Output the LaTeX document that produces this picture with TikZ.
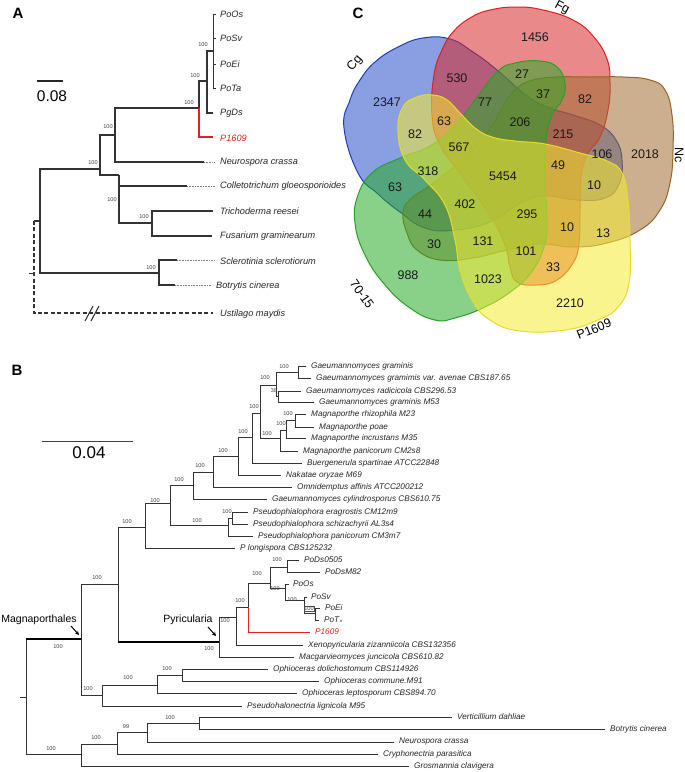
\documentclass[tikz,border=0pt]{standalone}
\usepackage{fontspec}
\setmainfont{Liberation Sans}
\usetikzlibrary{arrows.meta}
\definecolor{cgF}{RGB}{40,80,200}
\definecolor{cgD}{RGB}{30,60,185}
\definecolor{fgF}{RGB}{215,40,40}
\definecolor{fgD}{RGB}{225,30,30}
\definecolor{ncF}{RGB}{160,110,50}
\definecolor{ncD}{RGB}{150,100,40}
\definecolor{gnF}{RGB}{40,170,40}
\definecolor{gnD}{RGB}{40,160,40}
\definecolor{ylF}{RGB}{245,235,50}
\definecolor{ylD}{RGB}{230,220,40}
\definecolor{redL}{RGB}{230,30,30}
\begin{document}
\begin{tikzpicture}[x=1pt,y=-1pt,
  brA/.style={line width=1.2pt, draw=black!80},
  brB/.style={line width=0.75pt, draw=black!80},
  thk/.style={line width=2.3pt, draw=black},
  dotx/.style={densely dotted, draw=black!50, line width=0.6pt},
  spA/.style={anchor=west, inner sep=0pt, font=\fontsize{9.2}{10}\selectfont\itshape, text=black!85},
  spB/.style={anchor=west, inner sep=0pt, font=\fontsize{8.2}{9}\selectfont\itshape, text=black!85},
  bs/.style={inner sep=0pt, font=\fontsize{5.6}{6}\selectfont, text=black!75},
  vn/.style={inner sep=0pt, font=\fontsize{12.5}{13}\selectfont, text=black!90},
  setlab/.style={inner sep=0pt, font=\fontsize{12.5}{13}\selectfont},
  panel/.style={inner sep=0pt, font=\fontsize{15}{16}\selectfont\bfseries},
  clade/.style={inner sep=0pt, font=\fontsize{10.5}{11}\selectfont},
  blob/.style={line width=1pt, fill opacity=0.55}
]
\useasboundingbox (0,0) rectangle (685,772);

%================ PANEL C (Venn) =================
\path[blob, fill=cgF, draw=cgD] plot[smooth cycle, tension=0.75] coordinates {(344,128) (350,100) (360,80) (375,62) (398,47) (423,38) (450,39) (473,52) (497,70) (527,96) (550,108) (573,115) (600,125) (616,140) (622,160) (619,184) (605,198) (578,200) (545,196) (520,203) (490,222) (455,230) (425,228) (400,212) (378,194) (358,173)};
\path[blob, fill=fgF, draw=fgD] plot[smooth cycle, tension=0.75] coordinates {(434,75) (442,50) (453,32) (470,18) (490,10) (517,7) (543,10) (573,20) (593,36) (607,59) (610,83) (608,110) (600,137) (587,155) (581,178) (580,210) (579,243) (573,263) (557,280) (537,285) (517,282) (510,267) (505,245) (490,215) (462,176) (440,145) (432,115)};
\path[blob, fill=ncF, draw=ncD] plot[smooth cycle, tension=0.75] coordinates {(403,212) (407,233) (417,250) (440,260) (473,258) (507,250) (540,244) (573,247) (607,243) (640,230) (660,210) (670,183) (673,150) (672,115) (665,90) (650,80) (623,77) (590,77) (557,77) (533,80) (517,88) (505,103) (490,128) (465,157) (435,182) (412,198)};
\path[blob, fill=gnF, draw=gnD] plot[smooth cycle, tension=0.75] coordinates {(475,100) (497,72) (515,63) (540,61) (557,67) (565,83) (562,100) (552,115) (546,140) (545,180) (547,217) (545,243) (533,270) (513,290) (485,307) (455,318) (435,320) (410,308) (385,285) (365,255) (355,223) (358,195) (373,172) (400,158) (430,146) (455,125)};
\path[blob, fill=ylF, draw=ylD] plot[smooth cycle, tension=0.75] coordinates {(398,130) (403,107) (417,97) (433,95) (447,100) (460,113) (475,128) (492,137) (515,141) (545,144) (580,153) (607,161) (622,173) (628,200) (630,240) (629,283) (618,307) (598,320) (565,330) (520,331) (490,320) (472,300) (460,270) (455,240) (445,205) (425,180) (405,160)};

\node[panel] (lblC) at (358,13) {C};
\node[setlab, rotate=50] (sCg) at (355,63) {Cg};
\node[setlab, rotate=-28] (sFg) at (562,8) {Fg};
\node[setlab, rotate=-90] (sNc) at (679,155) {Nc};
\node[setlab, rotate=-55] (s70) at (362,294) {70-15};
\node[setlab, rotate=22] (sP) at (594,329) {P1609};

\node[vn] (v1) at (535,37) {1456};
\node[vn] (v2) at (457,78) {530};
\node[vn] (v3) at (522,74) {27};
\node[vn] (v4) at (387,102) {2347};
\node[vn] (v5) at (485,102) {77};
\node[vn] (v6) at (543,94) {37};
\node[vn] (v7) at (585,99) {82};
\node[vn] (v8) at (444,121) {63};
\node[vn] (v9) at (520,122) {206};
\node[vn] (v10) at (415,134) {82};
\node[vn] (v11) at (563,134) {215};
\node[vn] (v12) at (459,147) {567};
\node[vn] (v13) at (602,154) {106};
\node[vn] (v14) at (645,154) {2018};
\node[vn] (v15) at (558,165) {49};
\node[vn] (v16) at (428,171) {318};
\node[vn] (v17) at (503,176) {5454};
\node[vn] (v18) at (395,187) {63};
\node[vn] (v19) at (594,185) {10};
\node[vn] (v20) at (465,204) {402};
\node[vn] (v21) at (425,214) {44};
\node[vn] (v22) at (527,214) {295};
\node[vn] (v23) at (567,227) {10};
\node[vn] (v24) at (603,233) {13};
\node[vn] (v25) at (434,244) {30};
\node[vn] (v26) at (483,241) {131};
\node[vn] (v27) at (526,251) {101};
\node[vn] (v28) at (553,267) {33};
\node[vn] (v29) at (408,275) {988};
\node[vn] (v30) at (488,279) {1023};
\node[vn] (v31) at (570,303) {2210};

%================ PANEL A =================
\node[panel] (lblA) at (18,13) {A};
\coordinate (sbA1) at (37,81); \coordinate (sbA2) at (63,81);
\draw[line width=1.3pt, black!85] (sbA1) -- (sbA2);
\node[inner sep=0pt, font=\fontsize{15.5}{16}\selectfont] (sbAt) at (52,96) {0.08};

\coordinate (aR) at (34,221);
\coordinate (a1) at (40,221);
\coordinate (a2) at (100,169);
\coordinate (a3) at (115,135);
\coordinate (a4) at (199,108);
\coordinate (a6) at (207,81);
\coordinate (a7) at (213,51);
\coordinate (a5) at (119,175);
\coordinate (a9) at (152,223);
\coordinate (a8) at (159,273);
\coordinate (aT) at (29,273); \coordinate (aT2) at (34,273);

\coordinate (lA1) at (216,14);
\coordinate (lA2) at (216,38);
\coordinate (lA3) at (216,64);
\coordinate (lA4) at (216,88);
\coordinate (lA5) at (213,113);
\coordinate (lA6) at (213,137);
\coordinate (lA7) at (204,162);  \coordinate (lA7e) at (215,162);
\coordinate (lA8) at (187,186);  \coordinate (lA8e) at (215,186);
\coordinate (lA9) at (213,211);
\coordinate (lA10) at (212,236);
\coordinate (lA11) at (177,260); \coordinate (lA11e) at (214,260);
\coordinate (lA12) at (175,285); \coordinate (lA12e) at (211,285);
\coordinate (lA13) at (213,313);

\draw[brA] (aR) -- (a1);
\draw[brA] (a1) |- (a2);  \draw[brA] (a1) |- (a8);
\draw[brA] (a2) |- (a3);  \draw[brA] (a2) |- (a5);
\draw[brA] (a3) |- (a4);  \draw[brA] (a3) |- (lA7);
\draw[brA] (a4) |- (a6);  \draw[brA, draw=redL] (a4) |- (lA6);
\draw[brA] (a6) |- (a7);  \draw[brA] (a6) |- (lA5);
\draw[line width=0.9pt, black!80] (a7) |- (lA1); \draw[line width=0.9pt, black!80] (a7) |- (lA2);
\draw[line width=0.9pt, black!80] (a7) |- (lA3); \draw[line width=0.9pt, black!80] (a7) |- (lA4);
\draw[brA] (a5) |- (lA8);  \draw[brA] (a5) |- (a9);
\draw[brA] (a9) |- (lA9);  \draw[brA] (a9) |- (lA10);
\draw[brA] (a8) |- (lA11); \draw[brA] (a8) |- (lA12);
\draw[dotx] (lA7) -- (lA7e);
\draw[dotx] (lA8) -- (lA8e);
\draw[dotx] (lA11) -- (lA11e);
\draw[dotx] (lA12) -- (lA12e);
\draw[brA, dash pattern=on 4pt off 2.4pt] (aR) |- (lA13);
\draw[line width=0.8pt, black!80] (aT) -- (aT2);
\coordinate (bk1) at (85,321); \coordinate (bk2) at (93,306);
\coordinate (bk3) at (91,321); \coordinate (bk4) at (99,306);
\draw[line width=1pt, black!85] (bk1) -- (bk2);
\draw[line width=1pt, black!85] (bk3) -- (bk4);

\node[spA] (tA1) at (220,14) {PoOs};
\node[spA] (tA2) at (220,38) {PoSv};
\node[spA] (tA3) at (220,64) {PoEi};
\node[spA] (tA4) at (220,88) {PoTa};
\node[spA] (tA5) at (220,113) {PgDs};
\node[spA, text=redL] (tA6) at (220,138) {P1609};
\node[spA] (tA7) at (220,162) {Neurospora crassa};
\node[spA] (tA8) at (220,186) {Colletotrichum gloeosporioides};
\node[spA] (tA9) at (220,211) {Trichoderma reesei};
\node[spA] (tA10) at (220,236) {Fusarium graminearum};
\node[spA] (tA11) at (220,261) {Sclerotinia sclerotiorum};
\node[spA] (tA12) at (216,286) {Botrytis cinerea};
\node[spA] (tA13) at (220,314) {Ustilago maydis};

\node[bs] (bA1) at (203,45) {100};
\node[bs] (bA2) at (195,76) {100};
\node[bs] (bA3) at (189,103) {100};
\node[bs] (bA4) at (108,127) {100};
\node[bs] (bA5) at (93,163) {100};
\node[bs] (bA6) at (112,200) {100};
\node[bs] (bA7) at (144,217) {100};
\node[bs] (bA8) at (151,268) {100};

%================ PANEL B =================
\node[panel] (lblB) at (17,370) {B};
\coordinate (sbB1) at (42,441); \coordinate (sbB2) at (133,441);
\draw[line width=0.9pt, black!75] (sbB1) -- (sbB2);
\node[inner sep=0pt, font=\fontsize{17}{18}\selectfont] (sbBt) at (89,453) {0.04};

\coordinate (bS) at (20,697);
\coordinate (b0) at (26,697);
\coordinate (bM) at (81,639);
\coordinate (bO) at (81,754);
\coordinate (bP1) at (118,584);
\coordinate (b145) at (145,527);
\coordinate (b170) at (170,503);
\coordinate (b193) at (193,485);
\coordinate (b213) at (213,472);
\coordinate (b238) at (238,456);
\coordinate (b252) at (252,437);
\coordinate (b260) at (260,413);
\coordinate (b276) at (276,385);
\coordinate (b298) at (298,372);
\coordinate (b278) at (278,396);
\coordinate (b280) at (280,438);
\coordinate (b286) at (286,430);
\coordinate (b295) at (295,420);
\coordinate (b228) at (228,525);
\coordinate (b232) at (232,518);
\coordinate (bPy) at (219,642);
\coordinate (b236) at (236,617);
\coordinate (b248) at (248,607);
\coordinate (b270) at (270,583);
\coordinate (b287) at (287,567);
\coordinate (b285) at (285,588);
\coordinate (b304) at (304,600);
\coordinate (b315) at (315,613);
\coordinate (bQ) at (102,695);
\coordinate (b157) at (157,685);
\coordinate (b182) at (182,675);
\coordinate (b117) at (117,744);
\coordinate (b147) at (147,732);
\coordinate (b199) at (199,723);

\coordinate (lG1) at (306,366);
\coordinate (lG2) at (311,378);
\coordinate (lG3) at (301,391);
\coordinate (lG4) at (314,402);
\coordinate (lM1) at (306,414);
\coordinate (lM2) at (314,427);
\coordinate (lM3) at (306,438);
\coordinate (lM4) at (298,451);
\coordinate (lBuer) at (302,463);
\coordinate (lNak) at (281,475);
\coordinate (lOmni) at (292,487);
\coordinate (lGcyl) at (267,499);
\coordinate (lPs1) at (248,512);
\coordinate (lPs2) at (248,524);
\coordinate (lPs3) at (253,536);
\coordinate (lPlong) at (235,548);
\coordinate (lPoDs1) at (299,560);
\coordinate (lPoDs2) at (320,572);
\coordinate (lPoOs) at (289,584);
\coordinate (lPoSv) at (307,597);
\coordinate (lPoEi) at (320,608);
\coordinate (lPoTa) at (319,620);
\coordinate (lP1609) at (310,632);
\coordinate (lXeno) at (303,645);
\coordinate (lMac) at (294,657);
\coordinate (lOdo) at (268,669);
\coordinate (lOco) at (319,681);
\coordinate (lOle) at (297,693);
\coordinate (lPsh) at (242,706);
\coordinate (lVer) at (452,717);
\coordinate (lBot) at (605,729);
\coordinate (lNeu) at (394,742);
\coordinate (lCry) at (378,754);
\coordinate (lGro) at (409,766);

\draw[brB] (bS) -- (b0);
\draw[brB] (b0) |- (bM);  \draw[thk] (b0 |- bM) -- (bM);
\draw[brB] (b0) |- (bO);
\draw[brB] (bM) |- (bP1); \draw[brB] (bM) |- (bQ);
\draw[brB] (bP1) |- (b145); \draw[brB] (bP1) |- (bPy); \draw[thk] (bP1 |- bPy) -- (bPy);
\draw[brB] (b145) |- (b170); \draw[brB] (b145) |- (lPlong);
\draw[brB] (b170) |- (b193); \draw[brB] (b170) |- (b228);
\draw[brB] (b193) |- (b213); \draw[brB] (b193) |- (lGcyl);
\draw[brB] (b213) |- (b238); \draw[brB] (b213) |- (lOmni);
\draw[brB] (b238) |- (b252); \draw[brB] (b238) |- (lNak);
\draw[brB] (b252) |- (b260); \draw[brB] (b252) |- (lBuer);
\draw[brB] (b260) |- (b276); \draw[brB] (b260) |- (b280);
\draw[brB] (b276) |- (b298); \draw[brB] (b276) |- (b278);
\draw[brB] (b298) |- (lG1);  \draw[brB] (b298) |- (lG2);
\draw[brB] (b278) |- (lG3);  \draw[brB] (b278) |- (lG4);
\draw[brB] (b280) |- (b286); \draw[brB] (b280) |- (lM4);
\draw[brB] (b286) |- (b295); \draw[brB] (b286) |- (lM3);
\draw[brB] (b295) |- (lM1);  \draw[brB] (b295) |- (lM2);
\draw[brB] (b228) |- (b232); \draw[brB] (b228) |- (lPs3);
\draw[brB] (b232) |- (lPs1); \draw[brB] (b232) |- (lPs2);
\draw[brB] (bPy) |- (b236);  \draw[brB] (bPy) |- (lMac);
\draw[brB] (b236) |- (b248); \draw[brB] (b236) |- (lXeno);
\draw[brB] (b248) |- (b270); \draw[brB, draw=redL, line width=0.9pt] (b248) |- (lP1609);
\draw[brB] (b270) |- (b287); \draw[brB] (b270) |- (b285);
\draw[brB] (b287) |- (lPoDs1); \draw[brB] (b287) |- (lPoDs2);
\draw[brB] (b285) |- (lPoOs); \draw[brB] (b285) |- (b304);
\draw[brB] (b304) |- (lPoSv); \draw[brB] (b304) |- (b315);
\draw[brB] (b315) |- (lPoEi); \draw[brB] (b315) |- (lPoTa);
\draw[brB] (bQ) |- (b157);   \draw[brB] (bQ) |- (lPsh);
\draw[brB] (b157) |- (b182); \draw[brB] (b157) |- (lOle);
\draw[brB] (b182) |- (lOdo); \draw[brB] (b182) |- (lOco);
\draw[brB] (bO) |- (b117);   \draw[brB] (bO) |- (lGro);
\draw[brB] (b117) |- (b147); \draw[brB] (b117) |- (lCry);
\draw[brB] (b147) |- (b199); \draw[brB] (b147) |- (lNeu);
\draw[brB] (b199) |- (lVer); \draw[brB] (b199) |- (lBot);

\node[spB] (tG1) at (311,366) {Gaeumannomyces graminis};
\node[spB] (tG2) at (316,378) {Gaeumannomyces gramimis var. avenae CBS187.65};
\node[spB] (tG3) at (306,391) {Gaeumannomyces radicicola CBS296.53};
\node[spB] (tG4) at (319,402) {Gaeumannomyces graminis M53};
\node[spB] (tM1) at (311,414) {Magnaporthe rhizophila M23};
\node[spB] (tM2) at (319,427) {Magnaporthe poae};
\node[spB] (tM3) at (311,438) {Magnaporthe incrustans M35};
\node[spB] (tM4) at (303,451) {Magnaporthe panicorum CM2s8};
\node[spB] (tBuer) at (307,463) {Buergenerula spartinae ATCC22848};
\node[spB] (tNak) at (286,475) {Nakatae oryzae M69};
\node[spB] (tOmni) at (297,487) {Omnidemptus affinis ATCC200212};
\node[spB] (tGcyl) at (272,499) {Gaeumannomyces cylindrosporus CBS610.75};
\node[spB] (tPs1) at (253,512) {Pseudophialophora eragrostis CM12m9};
\node[spB] (tPs2) at (253,524) {Pseudophialophora schizachyrii AL3s4};
\node[spB] (tPs3) at (258,536) {Pseudophialophora panicorum CM3m7};
\node[spB] (tPlong) at (240,548) {P longispora CBS125232};
\node[spB] (tPoDs1) at (304,560) {PoDs0505};
\node[spB] (tPoDs2) at (325,572) {PoDsM82};
\node[spB] (tPoOs) at (293,584) {PoOs};
\node[spB] (tPoSv) at (311,597) {PoSv};
\node[spB] (tPoEi) at (325,608) {PoEi};
\node[spB] (tPoTa) at (324,620) {PoT{\fontsize{4}{4}\selectfont\,a}};
\node[spB, text=redL] (tP1609) at (315,632) {P1609};
\node[spB] (tXeno) at (308,645) {Xenopyricularia zizanniicola CBS132356};
\node[spB] (tMac) at (299,657) {Macgarvieomyces juncicola CBS610.82};
\node[spB] (tOdo) at (273,669) {Ophioceras dolichostomum CBS114926};
\node[spB] (tOco) at (324,681) {Ophioceras commune.M91};
\node[spB] (tOle) at (302,693) {Ophioceras leptosporum CBS894.70};
\node[spB] (tPsh) at (247,706) {Pseudohalonectria lignicola M95};
\node[spB] (tVer) at (457,717) {Verticillium dahliae};
\node[spB] (tBot) at (610,729) {Botrytis cinerea};
\node[spB] (tNeu) at (399,742) {Neurospora crassa};
\node[spB] (tCry) at (383,754) {Cryphonectria parasitica};
\node[spB] (tGro) at (414,766) {Grosmannia clavigera};

\node[bs] (bB1) at (284,367) {100};
\node[bs] (bB2) at (265,378) {100};
\node[bs] (bB3) at (274,391) {38};
\node[bs] (bB4) at (254,407) {100};
\node[bs] (bB5) at (288,414) {100};
\node[bs] (bB6) at (281,424) {100};
\node[bs] (bB7) at (243,432) {100};
\node[bs] (bB8) at (267,434) {100};
\node[bs] (bB9) at (223,451) {100};
\node[bs] (bB10) at (200,466) {100};
\node[bs] (bB11) at (179,480) {100};
\node[bs] (bB12) at (155,501) {100};
\node[bs] (bB13) at (227,512) {100};
\node[bs] (bB14) at (197,521) {100};
\node[bs] (bB15) at (127,522) {100};
\node[bs] (bB16) at (97,578) {100};
\node[bs] (bB17) at (277,560) {100};
\node[bs] (bB18) at (257,574) {100};
\node[bs] (bB19) at (275,589) {100};
\node[bs] (bB20) at (292,600) {100};
\node[bs] (bB21) at (240,601) {100};
\node[bs, draw=black!70, line width=0.4pt, inner sep=0.4pt] (bB22) at (309,609) {100};
\node[bs] (bB23) at (225,621) {100};
\node[bs] (bB24) at (209,649) {100};
\node[bs] (bB25) at (58,647) {100};
\node[bs] (bB26) at (167,669) {100};
\node[bs] (bB27) at (128,678) {100};
\node[bs] (bB28) at (88,689) {100};
\node[bs] (bB29) at (170,718) {100};
\node[bs] (bB30) at (126,727) {99};
\node[bs] (bB31) at (96,738) {100};
\node[bs] (bB32) at (51,749) {100};

\node[clade] (cMag) at (39,620) {Magnaporthales};
\node[clade] (cPyr) at (188,620) {Pyricularia};
\coordinate (mA1) at (71,626); \coordinate (mA2) at (79,635);
\coordinate (pA1) at (208,627); \coordinate (pA2) at (216,636);
\draw[line width=1pt, -{Stealth[length=4pt,width=4pt]}] (mA1) -- (mA2);
\draw[line width=1pt, -{Stealth[length=4pt,width=4pt]}] (pA1) -- (pA2);
\end{tikzpicture}
\end{document}
